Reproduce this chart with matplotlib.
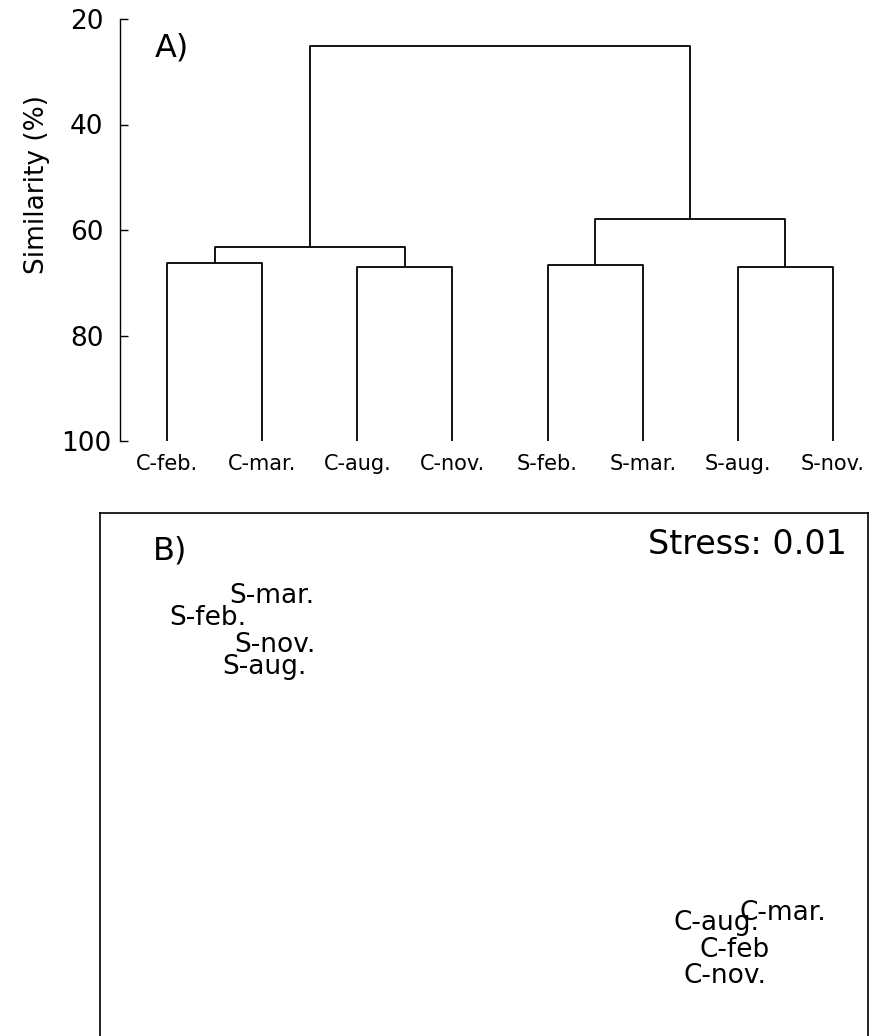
import matplotlib
matplotlib.use("Agg")
import matplotlib.pyplot as plt

# ---- Data ----
leaves = ['C-feb.', 'C-mar.', 'C-aug.', 'C-nov.', 'S-feb.', 'S-mar.', 'S-aug.', 'S-nov.']
pair_heights = [66.3, 67.1, 66.6, 67.0]     # (C-feb,C-mar), (C-aug,C-nov), (S-feb,S-mar), (S-aug,S-nov)
group_heights = [63.3, 58.0]                # C cluster, S cluster
root_height = 25.1
yticks = [20, 40, 60, 80, 100]

nmds_labels = ['S-mar.', 'S-feb.', 'S-nov.', 'S-aug.', 'C-mar.', 'C-aug.', 'C-feb', 'C-nov.']
nmds_x = [-0.883, -1.150, -0.871, -0.913, 1.246, 0.967, 1.046, 1.004]
nmds_y = [0.625, 0.533, 0.421, 0.330, -0.696, -0.738, -0.850, -0.958]
stress = 0.01

W, H = 876, 1036
fig = plt.figure(figsize=(W / 100, H / 100), dpi=100)
plt.rcParams['font.family'] = ['DejaVu Sans']

# ---- Panel A: dendrogram ----
axA = fig.add_axes([120 / W, 1 - 441 / H, 740 / W, 422 / H])
xs = list(range(1, len(leaves) + 1))
lc = dict(color='black', lw=1.3, solid_capstyle='butt')
bottom = 100
pair_mid = []
for i, h in enumerate(pair_heights):
    xa, xb = xs[2 * i], xs[2 * i + 1]
    axA.plot([xa, xa, xb, xb], [bottom, h, h, bottom], **lc)
    pair_mid.append((xa + xb) / 2)
group_mid = []
for g, h in enumerate(group_heights):
    xa, xb = pair_mid[2 * g], pair_mid[2 * g + 1]
    ha_, hb_ = pair_heights[2 * g], pair_heights[2 * g + 1]
    axA.plot([xa, xa, xb, xb], [ha_, h, h, hb_], **lc)
    group_mid.append((xa + xb) / 2)
axA.plot([group_mid[0], group_mid[0], group_mid[1], group_mid[1]],
         [group_heights[0], root_height, root_height, group_heights[1]], **lc)

axA.set_ylim(100, 20)
axA.set_xlim(1 - 47 / 95.14, 1 + (860 - 167) / 95.14)
axA.set_yticks(yticks)
axA.set_yticklabels([str(t) for t in yticks], fontsize=19, ha='center')
axA.tick_params(axis='y', direction='in', length=6, width=1, pad=24)
axA.set_xticks(xs)
axA.set_xticklabels(leaves, fontsize=15)
axA.tick_params(axis='x', length=0, pad=9)
for s in ['top', 'right', 'bottom']:
    axA.spines[s].set_visible(False)
axA.spines['left'].set_linewidth(1.0)
axA.text(0.047, 0.91, 'A)', transform=axA.transAxes, fontsize=23,
         ha='left', va='baseline')
fig.text(37 / W, 1 - 184 / H, 'Similarity (%)', rotation=90, fontsize=19,
         ha='center', va='center')

# ---- Panel B: NMDS ----
axB = fig.add_axes([100 / W, 1 - 1065 / H, 768 / W, 552 / H])
axB.set_xlim(-1.6, 1.6)
axB.set_ylim(1 - 552 / 240, 1.0)
for lab, x, y in zip(nmds_labels, nmds_x, nmds_y):
    axB.text(x, y, lab, fontsize=19, ha='center', va='baseline')
axB.set_xticks([])
axB.set_yticks([])
for s in axB.spines.values():
    s.set_linewidth(1.2)
axB.text(0.069, 0.915, 'B)', transform=axB.transAxes, fontsize=23,
         ha='left', va='baseline')
axB.text(0.9727, 0.926, f'Stress: {stress:.2f}', transform=axB.transAxes,
         fontsize=24, ha='right', va='baseline')

fig.savefig('out.png', dpi=100)
